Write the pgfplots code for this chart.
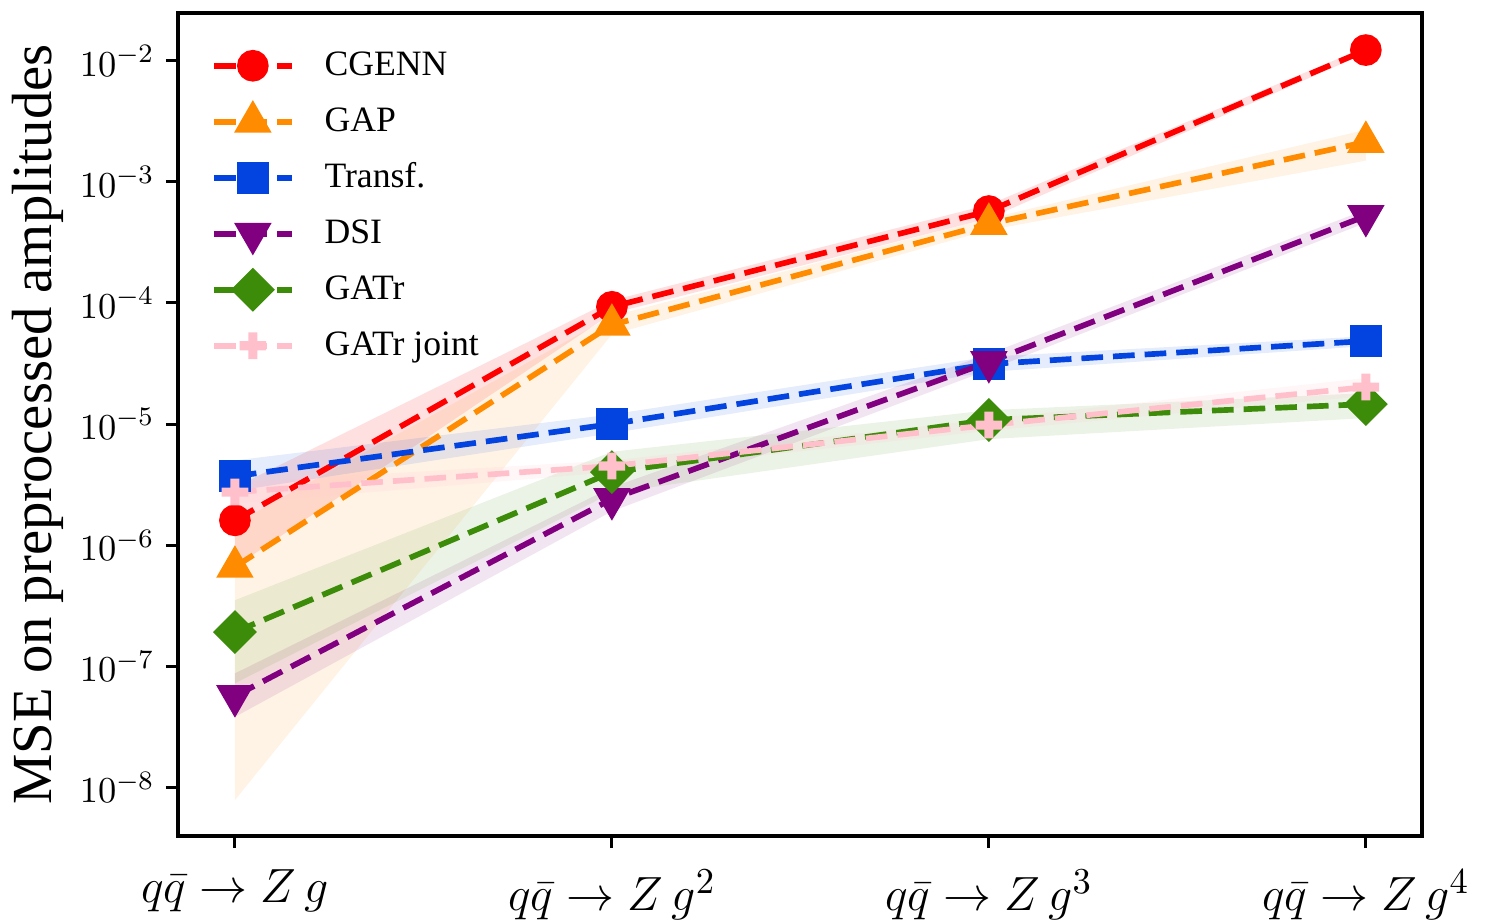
\documentclass[border=0pt]{standalone}
\usepackage{fontspec}
\setmainfont{Liberation Serif}
\usepackage{pgfplots}
\pgfplotsset{compat=1.18}
\definecolor{cgenn}{RGB}{255,0,0}
\definecolor{gap}{RGB}{255,140,0}
\definecolor{transf}{RGB}{3,67,223}
\definecolor{dsi}{RGB}{128,0,128}
\definecolor{gatr}{RGB}{60,140,10}
\definecolor{joint}{RGB}{255,192,203}
\pgfdeclareplotmark{fatplus}{%
  \pgfpathmoveto{\pgfqpoint{-0.34\pgfplotmarksize}{\pgfplotmarksize}}%
  \pgfpathlineto{\pgfqpoint{0.34\pgfplotmarksize}{\pgfplotmarksize}}%
  \pgfpathlineto{\pgfqpoint{0.34\pgfplotmarksize}{0.34\pgfplotmarksize}}%
  \pgfpathlineto{\pgfqpoint{\pgfplotmarksize}{0.34\pgfplotmarksize}}%
  \pgfpathlineto{\pgfqpoint{\pgfplotmarksize}{-0.34\pgfplotmarksize}}%
  \pgfpathlineto{\pgfqpoint{0.34\pgfplotmarksize}{-0.34\pgfplotmarksize}}%
  \pgfpathlineto{\pgfqpoint{0.34\pgfplotmarksize}{-\pgfplotmarksize}}%
  \pgfpathlineto{\pgfqpoint{-0.34\pgfplotmarksize}{-\pgfplotmarksize}}%
  \pgfpathlineto{\pgfqpoint{-0.34\pgfplotmarksize}{-0.34\pgfplotmarksize}}%
  \pgfpathlineto{\pgfqpoint{-\pgfplotmarksize}{-0.34\pgfplotmarksize}}%
  \pgfpathlineto{\pgfqpoint{-\pgfplotmarksize}{0.34\pgfplotmarksize}}%
  \pgfpathlineto{\pgfqpoint{-0.34\pgfplotmarksize}{0.34\pgfplotmarksize}}%
  \pgfpathclose
  \pgfusepathqfill
}
\begin{document}
\begin{tikzpicture}
\begin{axis}[
  at={(0pt,0pt)}, anchor=south west,
  scale only axis, width=373.2pt, height=246.9pt,
  ymode=log, log basis y=10,
  xmin=-0.151, xmax=3.149, ymin=3.94e-9, ymax=2.49e-2,
  xtick={0,1,2,3},
  xticklabels={$q\bar{q}\rightarrow Z\,g$, $q\bar{q}\rightarrow Z\,g^{2}$, $q\bar{q}\rightarrow Z\,g^{3}$, $q\bar{q}\rightarrow Z\,g^{4}$},
  ytick={1e-8,1e-7,1e-6,1e-5,1e-4,1e-3,1e-2},
  tick align=outside, xtick pos=bottom, ytick pos=left,
  major tick length=3.6pt, minor tick length=1.8pt,
  every tick/.style={black, line width=0.9pt},
  axis line style={line width=1pt},
  xticklabel style={font=\fontsize{15.5}{17}\selectfont, yshift=-3pt},
  yticklabel style={font=\fontsize{11}{12}\selectfont},
  ylabel={MSE on preprocessed amplitudes},
  ylabel style={font=\fontsize{17}{19}\selectfont, at={(axis description cs:-0.113,0.5)}, anchor=center},
  legend style={draw=none, fill=none, inner sep=0pt, at={(axis description cs:0.026,0.959)}, anchor=north west,
    font=\fontsize{10.7}{12}\selectfont, row sep=5.8pt, nodes={inner sep=0pt}},
  legend cell align=left,
  legend image code/.code={%
    \path[draw=none, fill=none] (0pt,-5.5pt) rectangle (33.2pt,5.5pt);
    \draw[mark repeat=2,mark phase=2] plot coordinates {(0pt,0pt) (11.7pt,0pt) (23.4pt,0pt)};
  },
  every axis plot/.append style={line width=1.7pt, dash pattern=on 6.5pt off 3pt},
]
% bands
\addplot[forget plot, draw=none, fill=cgenn, fill opacity=0.12, solid] coordinates {(0,3.0e-6) (1,1.05e-4) (2,6.5e-4) (3,1.3e-2) (3,1.16e-2) (2,5.0e-4) (1,8.2e-5) (0,6.6e-7)} -- cycle;
\addplot[forget plot, draw=none, fill=gap, fill opacity=0.1, solid] coordinates {(0,1.5e-6) (1,7.8e-5) (2,5.0e-4) (3,2.7e-3) (3,1.5e-3) (2,4.0e-4) (1,5.5e-5) (0,7.8e-9)} -- cycle;
\addplot[forget plot, draw=none, fill=transf, fill opacity=0.1, solid] coordinates {(0,5.0e-6) (1,1.2e-5) (2,3.6e-5) (3,5.3e-5) (3,4.4e-5) (2,2.7e-5) (1,8.4e-6) (0,2.8e-6)} -- cycle;
\addplot[forget plot, draw=none, fill=dsi, fill opacity=0.1, solid] coordinates {(0,8.7e-8) (1,3.0e-6) (2,3.8e-5) (3,5.9e-4) (3,4.6e-4) (2,2.8e-5) (1,1.9e-6) (0,3.8e-8)} -- cycle;
\addplot[forget plot, draw=none, fill=gatr, fill opacity=0.1, solid] coordinates {(0,3.5e-7) (1,5.9e-6) (2,1.3e-5) (3,1.8e-5) (3,1.12e-5) (2,7.5e-6) (1,2.7e-6) (0,7.2e-8)} -- cycle;
\addplot[forget plot, draw=none, fill=joint, fill opacity=0.15, solid] coordinates {(0,3.3e-6) (1,5.0e-6) (2,1.1e-5) (3,2.4e-5) (3,1.7e-5) (2,8.8e-6) (1,4.0e-6) (0,2.2e-6)} -- cycle;
% lines
\addplot[color=cgenn, mark=*, mark size=3.9pt, mark options={solid}] coordinates {(0,1.6e-6) (1,9.3e-5) (2,5.75e-4) (3,1.23e-2)};
\addlegendentry{CGENN}
\addplot[color=gap, mark=triangle*, mark size=4.8pt, mark options={solid}] coordinates {(0,6.6e-7) (1,6.6e-5) (2,4.5e-4) (3,2.14e-3)};
\addlegendentry{GAP}
\addplot[color=transf, mark=square*, mark size=4pt, mark options={solid}] coordinates {(0,3.7e-6) (1,1.0e-5) (2,3.13e-5) (3,4.85e-5)};
\addlegendentry{Transf.}
\addplot[color=dsi, mark=triangle*, mark size=4.8pt, mark options={solid, rotate=180}] coordinates {(0,5.65e-8) (1,2.4e-6) (2,3.25e-5) (3,5.24e-4)};
\addlegendentry{DSI}
\addplot[color=gatr, mark=square*, mark size=3.8pt, mark options={solid, rotate=45}] coordinates {(0,1.91e-7) (1,4.0e-6) (2,1.08e-5) (3,1.46e-5)};
\addlegendentry{GATr}
\addplot[color=joint, mark=fatplus, mark size=4pt, mark options={solid}] coordinates {(0,2.74e-6) (1,4.5e-6) (2,9.8e-6) (3,2.02e-5)};
\addlegendentry{GATr joint}
\end{axis}
\pgfresetboundingbox
\useasboundingbox (-53.4pt,-25.8pt) rectangle (392.4pt,250.8pt);
\end{tikzpicture}
\end{document}
